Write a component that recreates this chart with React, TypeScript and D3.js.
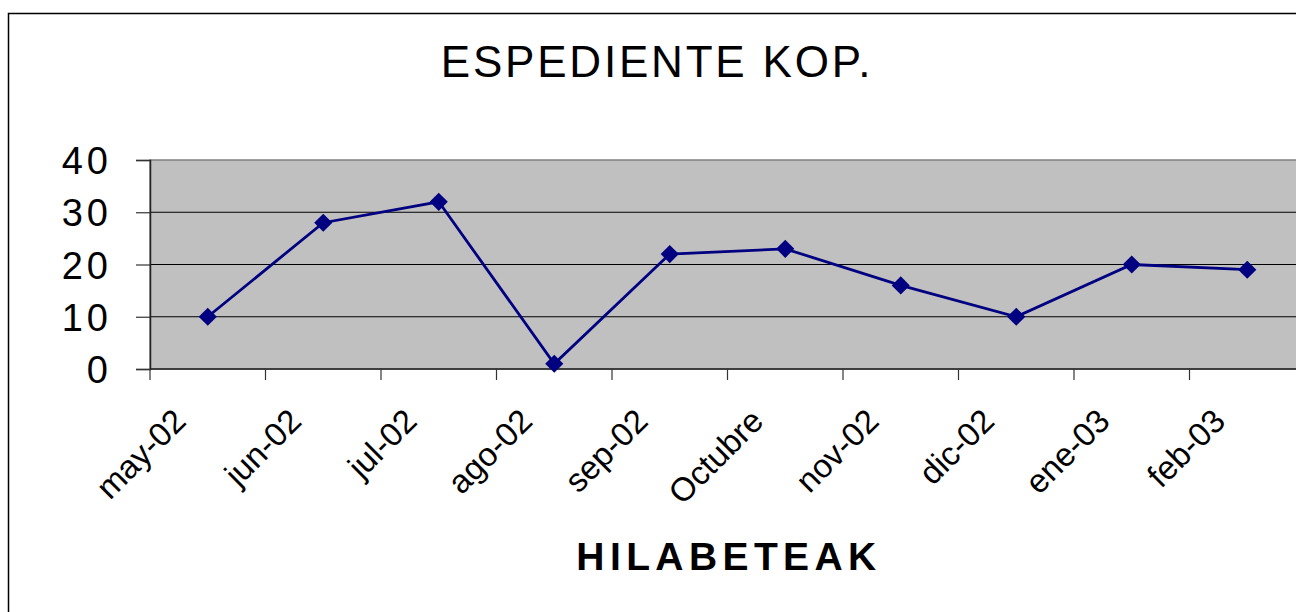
import React, { useRef, useEffect } from "react";
import * as d3 from "d3";

const months = [
  "may-02",
  "jun-02",
  "jul-02",
  "ago-02",
  "sep-02",
  "Octubre",
  "nov-02",
  "dic-02",
  "ene-03",
  "feb-03",
];
const expedientes = [10, 28, 32, 1, 22, 23, 16, 10, 20, 19];
const yTicks = [0, 10, 20, 30, 40];

const W = 1296;
const H = 612;

const App = () => {
  const svgRef = useRef<SVGSVGElement>(null);

  useEffect(() => {
    const svg = d3.select(svgRef.current);
    svg.selectAll("*").remove();

    const left = 150;
    const right = 1305;
    const top = 160;
    const bottom = 369;

    // outer chart frame
    svg
      .append("rect")
      .attr("x", 8.5)
      .attr("y", 13.5)
      .attr("width", W + 20)
      .attr("height", H + 20)
      .attr("fill", "#fff")
      .attr("stroke", "#000")
      .attr("stroke-width", 1.5);

    const x = d3.scaleBand().domain(months).range([left, right]);
    const y = d3.scaleLinear().domain([0, 40]).range([bottom, top]);

    // plot area
    svg
      .append("rect")
      .attr("x", left)
      .attr("y", top)
      .attr("width", right - left)
      .attr("height", bottom - top)
      .attr("fill", "#c0c0c0")
      .attr("stroke", "#808080")
      .attr("stroke-width", 1.5);

    // gridlines
    svg
      .append("g")
      .selectAll("line")
      .data(yTicks.filter((d) => d > 0 && d < 40))
      .join("line")
      .attr("x1", left)
      .attr("x2", right)
      .attr("y1", (d) => y(d))
      .attr("y2", (d) => y(d))
      .attr("stroke", "#000")
      .attr("stroke-width", 1);

    // y axis
    const yAxis = svg
      .append("g")
      .attr("transform", `translate(${left},0)`)
      .call(d3.axisLeft(y).tickValues(yTicks).tickSize(14).tickPadding(24));
    yAxis.select(".domain").attr("stroke", "#222").attr("stroke-width", 1.5);
    yAxis.selectAll(".tick line").attr("stroke", "#333").attr("stroke-width", 1.2);
    yAxis
      .selectAll("text")
      .attr("font-family", "Liberation Sans, Arial, sans-serif")
      .attr("font-size", 38)
      .attr("letter-spacing", 4)
      .attr("fill", "#000")
      .attr("dy", "0.36em");

    // x axis
    const xAxis = svg
      .append("g")
      .attr("transform", `translate(0,${bottom})`);
    xAxis
      .append("line")
      .attr("x1", left)
      .attr("x2", right)
      .attr("stroke", "#222")
      .attr("stroke-width", 1.5);
    xAxis
      .selectAll(".tk")
      .data(months)
      .join("line")
      .attr("class", "tk")
      .attr("x1", (d) => x(d)!)
      .attr("x2", (d) => x(d)!)
      .attr("y1", 0)
      .attr("y2", 11)
      .attr("stroke", "#333")
      .attr("stroke-width", 1.2);
    xAxis
      .selectAll("text")
      .data(months)
      .join("text")
      .attr(
        "transform",
        (d) => `translate(${x(d)! + x.bandwidth() / 2 - 20},${54}) rotate(-45)`
      )
      .attr("text-anchor", "end")
      .attr("font-family", "Liberation Sans, Arial, sans-serif")
      .attr("font-size", 33)
      .attr("fill", "#000")
      .text((d) => d);

    // series
    const line = d3
      .line<number>()
      .x((_, i) => x(months[i])! + x.bandwidth() / 2)
      .y((d) => y(d));
    svg
      .append("path")
      .datum(expedientes)
      .attr("d", line)
      .attr("fill", "none")
      .attr("stroke", "#000080")
      .attr("stroke-width", 2.8);

    svg
      .append("g")
      .selectAll("path")
      .data(expedientes)
      .join("path")
      .attr("d", d3.symbol(d3.symbolDiamond2, 210)())
      .attr(
        "transform",
        (d, i) => `translate(${x(months[i])! + x.bandwidth() / 2},${y(d)})`
      )
      .attr("fill", "#000080");

    // titles
    svg
      .append("text")
      .attr("x", 657)
      .attr("y", 77)
      .attr("text-anchor", "middle")
      .attr("font-family", "Liberation Sans, Arial, sans-serif")
      .attr("font-size", 44)
      .attr("letter-spacing", 2.8)
      .attr("fill", "#000")
      .text("ESPEDIENTE KOP.");

    svg
      .append("text")
      .attr("x", 729)
      .attr("y", 570)
      .attr("text-anchor", "middle")
      .attr("font-family", "Liberation Sans, Arial, sans-serif")
      .attr("font-size", 39)
      .attr("font-weight", "bold")
      .attr("letter-spacing", 5.4)
      .attr("fill", "#000")
      .text("HILABETEAK");
  }, []);

  return (
    <svg
      ref={svgRef}
      width={W}
      height={H}
      style={{ position: "absolute", left: 0, top: 0, display: "block" }}
    ></svg>
  );
};

export default App;
